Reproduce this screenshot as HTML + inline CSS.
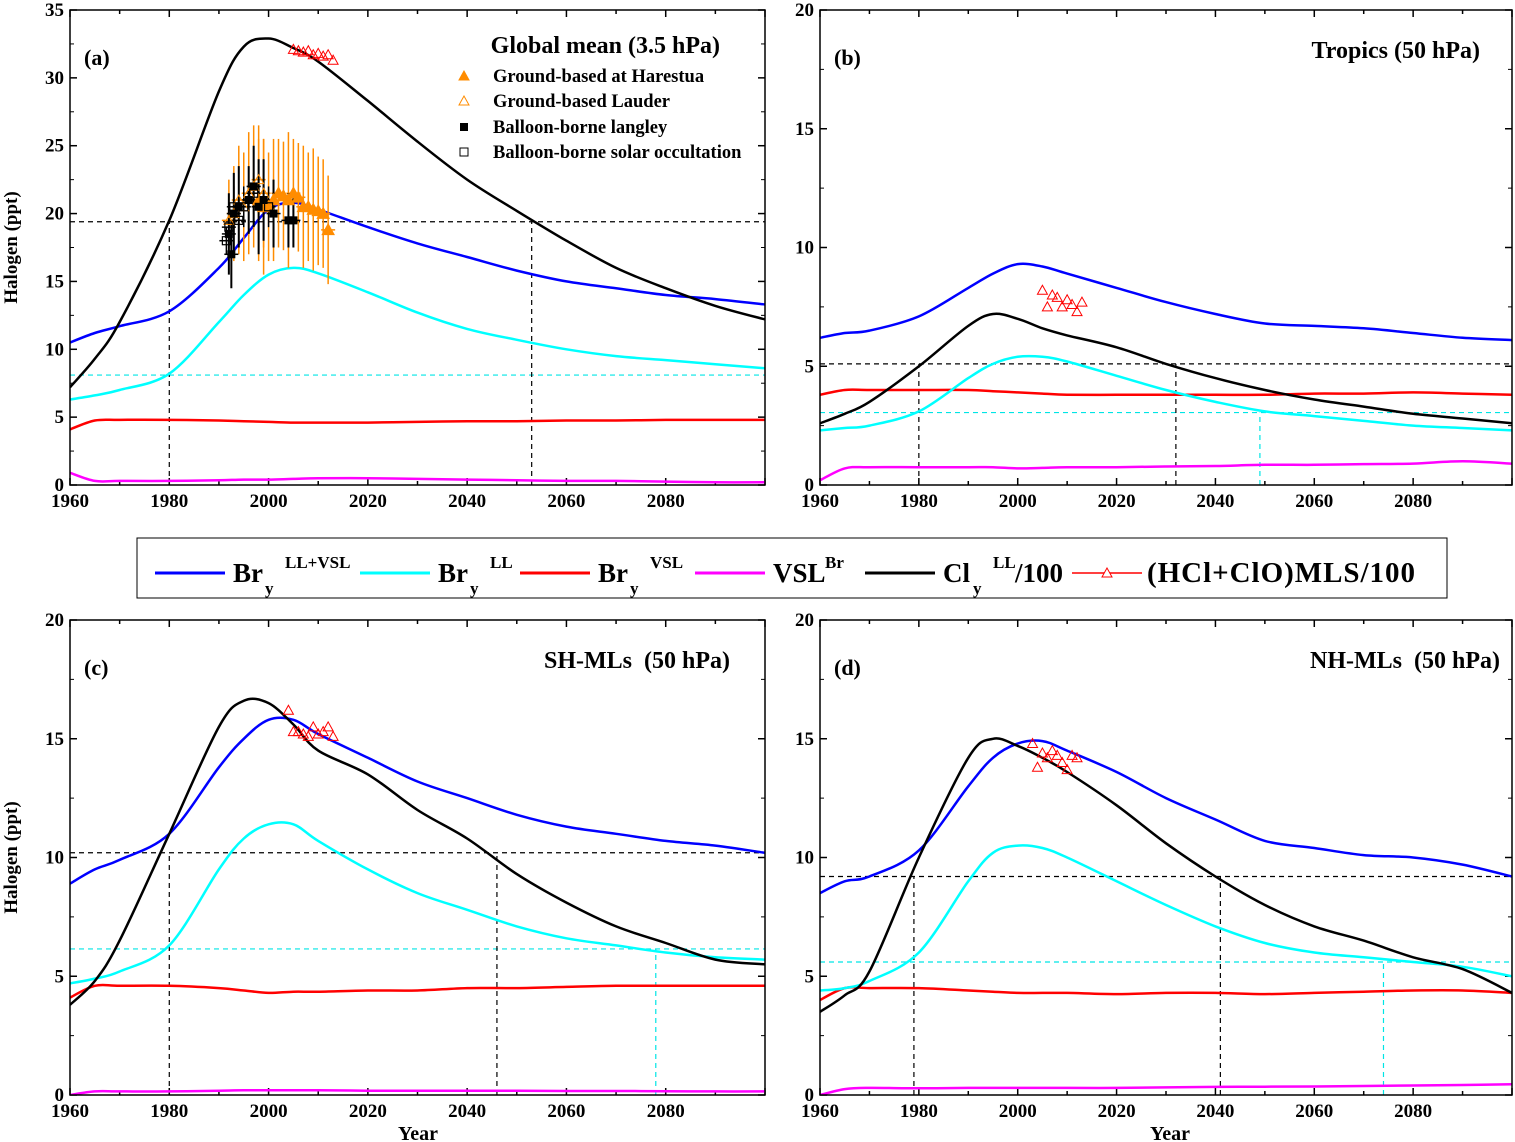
<!DOCTYPE html>
<html><head><meta charset="utf-8">
<style>
html,body{margin:0;padding:0;background:#fff;}
svg{display:block;font-family:"Liberation Serif",serif;font-weight:bold;}
</style></head>
<body>
<svg id="chart" width="1515" height="1142" viewBox="0 0 1515 1142" xmlns="http://www.w3.org/2000/svg">
<rect x="0" y="0" width="1515" height="1142" fill="#fff"/>
</svg>
<script>
// ---- data ----
const years = [1960,1965,1970,1980,1990,1995,2000,2005,2010,2020,2030,2040,2050,2060,2070,2080,2090,2100];
// panel a
const aBlue  = [10.5,11.2,11.7,12.8,16,18.2,20.3,20.8,20.3,19,17.8,16.8,15.8,15,14.5,14,13.7,13.3];
const aCyan  = [6.3,6.6,7,8.2,12,14,15.5,16,15.6,14.2,12.7,11.5,10.7,10,9.5,9.2,8.9,8.6];
const aRed   = [4.1,4.75,4.8,4.8,4.75,4.7,4.65,4.6,4.6,4.6,4.65,4.7,4.7,4.75,4.75,4.8,4.8,4.8];
const aMag   = [0.9,0.3,0.3,0.3,0.35,0.4,0.4,0.45,0.5,0.5,0.45,0.4,0.35,0.3,0.3,0.25,0.2,0.2];
const aBlack = [7.2,9.3,12,19.5,29,32.3,32.9,32.2,31.2,28.3,25.3,22.5,20.2,18,16,14.5,13.2,12.2];
// panel b
const bBlue  = [6.2,6.4,6.5,7.1,8.3,8.9,9.3,9.2,8.9,8.3,7.7,7.2,6.8,6.7,6.6,6.4,6.2,6.1];
const bCyan  = [2.3,2.4,2.5,3.1,4.5,5.1,5.4,5.4,5.2,4.6,4,3.5,3.1,2.9,2.7,2.5,2.4,2.3];
const bRed   = [3.8,4.0,4.0,4.0,4.0,3.95,3.9,3.85,3.8,3.8,3.8,3.8,3.8,3.85,3.85,3.9,3.85,3.8];
const bMag   = [0.2,0.7,0.75,0.75,0.75,0.75,0.7,0.72,0.75,0.75,0.78,0.8,0.85,0.85,0.88,0.9,1.0,0.9];
const bBlack = [2.6,3.0,3.5,5,6.7,7.2,7,6.6,6.3,5.8,5.1,4.5,4.0,3.6,3.3,3.0,2.8,2.6];
// panel c
const cBlue  = [8.9,9.5,9.9,11,13.8,15,15.8,15.8,15.2,14.2,13.2,12.5,11.8,11.3,11,10.7,10.5,10.2];
const cCyan  = [4.7,4.9,5.2,6.3,9.5,10.8,11.4,11.4,10.7,9.5,8.5,7.8,7.1,6.6,6.3,6.0,5.8,5.7];
const cRed   = [4.1,4.6,4.6,4.6,4.5,4.4,4.3,4.35,4.35,4.4,4.4,4.5,4.5,4.55,4.6,4.6,4.6,4.6];
const cMag   = [0,0.15,0.15,0.15,0.18,0.2,0.2,0.2,0.2,0.18,0.18,0.18,0.18,0.17,0.17,0.16,0.15,0.15];
const cBlack = [3.8,4.8,6.5,11,15.5,16.6,16.5,15.6,14.5,13.5,12,10.8,9.3,8.1,7.1,6.4,5.7,5.5];
// panel d
const dBlue  = [8.5,9.0,9.2,10.3,13,14.2,14.8,14.9,14.5,13.6,12.5,11.6,10.7,10.4,10.1,10,9.7,9.2];
const dCyan  = [4.4,4.5,4.8,6,9,10.2,10.5,10.4,10,9,8,7.1,6.4,6.0,5.8,5.6,5.4,5.0];
const dRed   = [4.0,4.5,4.5,4.5,4.4,4.35,4.3,4.3,4.3,4.25,4.3,4.3,4.25,4.3,4.35,4.4,4.4,4.3];
const dMag   = [0,0.25,0.3,0.28,0.3,0.3,0.3,0.3,0.3,0.3,0.32,0.34,0.35,0.36,0.38,0.4,0.42,0.45];
const dBlack = [3.5,4.2,5.2,10,14.2,15,14.7,14.2,13.6,12.2,10.6,9.2,8,7.1,6.5,5.8,5.3,4.3];
// MLS (HCl+ClO)/100
const mlsYearsA = [2005,2006,2007,2008,2009,2010,2011,2012,2013];
const mlsA = [32.1,32.0,31.9,32.0,31.7,31.8,31.6,31.7,31.3];
const mlsYearsB = [2005,2006,2007,2008,2009,2010,2011,2012,2013];
const mlsB = [8.2,7.5,8.0,7.9,7.5,7.8,7.6,7.3,7.7];
const mlsYearsC = [2004,2005,2006,2007,2008,2009,2010,2011,2012,2013];
const mlsC = [16.2,15.3,15.3,15.2,15.1,15.5,15.2,15.3,15.5,15.1];
const mlsYearsD = [2003,2004,2005,2006,2007,2008,2009,2010,2011,2012];
const mlsD = [14.8,13.8,14.4,14.2,14.5,14.3,14.0,13.7,14.3,14.2];
// Ground-based / balloon observations (panel a)
const harYears = [1998,1999,2000,2001,2002,2003,2004,2005,2006,2007,2008,2009,2010,2011,2012];
const harVals  = [21,20.5,20.5,21,21.5,21.3,21,21.5,21.2,20.5,20.5,20.3,20.2,20,18.8];
const harErr   = [4.5,5,4,4.5,4,4,5,4,4,4.5,4,4.5,4,4,4];
const laudYears = [1992,1993,1994,1995,1996,1997,1998,1999];
const laudVals  = [19.5,20,21,20.5,21.5,22,22.5,21.5];
const laudErr   = [3,3.5,4,4,4.5,4.5,4,4];
const balYears = [1992,1992.5,1993,1994,1996,1997,1998,1999,2001,2004,2005];
const balVals  = [18.5,17,20,20.5,21,22,20.5,21,20,19.5,19.5];
const balErr   = [3,2.5,3,3,2.5,3,3.5,3,2.5,2,2];
const solYears = [1991.5,1992,1993,1994,1995,1997,2000];
const solVals  = [18,19,20.5,19.5,20.5,21.5,20.5];
const solErr   = [1,1.5,1.5,1.5,1.5,1.5,1.5];
// dashed reference lines
const refA = {h:19.4, v:[1980,2053], ch:8.1, cv:[]};
const refB = {h:5.1, v:[1980,2032], ch:3.05, cv:[2049]};
const refC = {h:10.2, v:[1980,2046], ch:6.15, cv:[2078]};
const refD = {h:9.2, v:[1979,2041], ch:5.6, cv:[2074]};

const NS = "http://www.w3.org/2000/svg";
const svg = document.getElementById('chart');
function mk(tag, attrs, parent){
  const e = document.createElementNS(NS, tag);
  for (const k in attrs) e.setAttribute(k, attrs[k]);
  (parent||svg).appendChild(e);
  return e;
}
function smoothPath(pts){
  let d = `M${pts[0][0].toFixed(1)},${pts[0][1].toFixed(1)}`;
  for (let i=0;i<pts.length-1;i++){
    const p0=pts[Math.max(0,i-1)], p1=pts[i], p2=pts[i+1], p3=pts[Math.min(pts.length-1,i+2)];
    const c1=[p1[0]+(p2[0]-p0[0])/6, p1[1]+(p2[1]-p0[1])/6];
    const c2=[p2[0]-(p3[0]-p1[0])/6, p2[1]-(p3[1]-p1[1])/6];
    d += ` C${c1[0].toFixed(1)},${c1[1].toFixed(1)} ${c2[0].toFixed(1)},${c2[1].toFixed(1)} ${p2[0].toFixed(1)},${p2[1].toFixed(1)}`;
  }
  return d;
}
function tri(g, x, y, s, fill, stroke){
  return mk('polygon',{points:`${x},${y-s} ${x-s},${y+s*0.8} ${x+s},${y+s*0.8}`,fill:fill,stroke:stroke,'stroke-width':1},g);
}

function panel(cfg){
  const {id,L,R,T,B,ymax,series,mlsX,mlsY,ref,label,title,xlabel} = cfg;
  const g = mk('g',{});
  
  
  const xs = v => L + (v-1960)/(2100-1960)*(R-L);
  const ys = v => B - v/ymax*(B-T);
  const cp = mk('clipPath',{id:'clip'+id},g);
  mk('rect',{x:L,y:T,width:R-L,height:B-T},cp);
  for (let v=0; v<=ymax; v+=5){
    const y=ys(v);
    mk('line',{x1:L,y1:y,x2:L+7,y2:y,stroke:'#000','stroke-width':1.5},g);
    mk('line',{x1:R,y1:y,x2:R-7,y2:y,stroke:'#000','stroke-width':1.5},g);
    if (v<ymax){ const ym=ys(v+2.5);
      mk('line',{x1:L,y1:ym,x2:L+4,y2:ym,stroke:'#000','stroke-width':1},g);
      mk('line',{x1:R,y1:ym,x2:R-4,y2:ym,stroke:'#000','stroke-width':1},g);}
    const t=mk('text',{x:L-6,y:y+6,'text-anchor':'end','font-size':19},g);
    t.textContent=v;
    
    
  }
  for (let v=1960; v<=2100; v+=10){
    const x=xs(v);
    const len = v%20===0?7:4;
    mk('line',{x1:x,y1:B,x2:x,y2:B-len,stroke:'#000','stroke-width':1.5},g);
    mk('line',{x1:x,y1:T,x2:x,y2:T+len,stroke:'#000','stroke-width':1.5},g);
    if (v%20===0 && v<2100){
      const t=mk('text',{x:x,y:B+22,'text-anchor':'middle','font-size':19},g);
      t.textContent=v;
      
      
    }
  }
  const cg = mk('g',{'clip-path':`url(#clip${id})`},g);
  mk('line',{x1:L,y1:ys(ref.h),x2:R,y2:ys(ref.h),stroke:'#000','stroke-width':1.2,'stroke-dasharray':'5,4'},cg);
  mk('line',{x1:L,y1:ys(ref.ch),x2:R,y2:ys(ref.ch),stroke:'#00e5e5','stroke-width':1.2,'stroke-dasharray':'5,4'},cg);
  ref.v.forEach(v=>mk('line',{x1:xs(v),y1:B,x2:xs(v),y2:ys(ref.h),stroke:'#000','stroke-width':1.2,'stroke-dasharray':'5,4'},cg));
  ref.cv.forEach(v=>mk('line',{x1:xs(v),y1:B,x2:xs(v),y2:ys(ref.ch),stroke:'#00e5e5','stroke-width':1.2,'stroke-dasharray':'5,4'},cg));
  const colors = {blue:'#0000ff',cyan:'#00ffff',red:'#ff0000',mag:'#ff00ff',black:'#000'};
  ['mag','red','cyan','blue','black'].forEach(k=>{
    const vals = series[k];
    const pts = years.map((yr,i)=>[xs(yr),ys(vals[i])]);
    const p = mk('path',{d:smoothPath(pts),fill:'none',stroke:colors[k],'stroke-width':2.5},cg);
    
    
  });
  if (cfg.extra) cfg.extra(cg,xs,ys);
  mlsX.forEach((yr,i)=>{
    const t=tri(cg,xs(yr),ys(mlsY[i]),5,'none','#ff0000');
    
    
  });
  const fr = mk('rect',{x:L,y:T,width:R-L,height:B-T,fill:'none',stroke:'#000','stroke-width':1.5},g);
  
  
  const lb = mk('text',{x:L+14,y:T+55,'font-size':22},g);
  lb.textContent=label;
  
  
  const tt = mk('text',{x:title.x,y:title.y,'text-anchor':'end','font-size':24,'xml:space':'preserve'},g);
  tt.setAttributeNS('http://www.w3.org/XML/1998/namespace','xml:space','preserve');
  tt.textContent=title.t;
  
  
  if (cfg.ylabel){
    const yl = mk('text',{x:0,y:0,'text-anchor':'middle','font-size':19,transform:`translate(17,${(T+B)/2}) rotate(-90)`},g);
    yl.textContent='Halogen (ppt)';
    
    
  }
  if (xlabel){
    const xl = mk('text',{x:(id==='c'?418:1170),y:1140,'text-anchor':'middle','font-size':20},g);
    xl.textContent='Year';
    
    
  }
}

function obsExtra(cg,xs,ys){
  const eb = (yrs,vals,errs,col,w)=>yrs.forEach((yr,i)=>{
    const x=xs(yr);
    mk('line',{x1:x,y1:ys(vals[i]-errs[i]),x2:x,y2:ys(vals[i]+errs[i]),stroke:col,'stroke-width':w},cg);
    mk('line',{x1:x-7,y1:ys(vals[i]),x2:x+7,y2:ys(vals[i]),stroke:col,'stroke-width':1.5},cg);
  });
  eb(laudYears,laudVals,laudErr,'#ff8c00',1.5);
  eb(harYears,harVals,harErr,'#ff8c00',1.5);
  eb(balYears,balVals,balErr,'#000',2);
  eb(solYears,solVals,solErr,'#000',1.5);
  laudYears.forEach((yr,i)=>tri(cg,xs(yr),ys(laudVals[i]),5,'none','#ff8c00'));
  harYears.forEach((yr,i)=>tri(cg,xs(yr),ys(harVals[i]),6,'#ff8c00','#ff8c00'));
  balYears.forEach((yr,i)=>mk('rect',{x:xs(yr)-4,y:ys(balVals[i])-4,width:8,height:8,fill:'#000'},cg));
  solYears.forEach((yr,i)=>mk('rect',{x:xs(yr)-4,y:ys(solVals[i])-4,width:8,height:8,fill:'none',stroke:'#000','stroke-width':1.2},cg));
}

panel({id:'a',L:70,R:765,T:10,B:485,ymax:35,ylabel:true,
  series:{blue:aBlue,cyan:aCyan,red:aRed,mag:aMag,black:aBlack},
  mlsX:mlsYearsA,mlsY:mlsA,ref:refA,label:'(a)',title:{t:'Global mean (3.5 hPa)',x:720,y:53},extra:obsExtra});
panel({id:'b',L:820,R:1512,T:10,B:485,ymax:20,
  series:{blue:bBlue,cyan:bCyan,red:bRed,mag:bMag,black:bBlack},
  mlsX:mlsYearsB,mlsY:mlsB,ref:refB,label:'(b)',title:{t:'Tropics (50 hPa)',x:1480,y:58}});
panel({id:'c',L:70,R:765,T:620,B:1095,ymax:20,ylabel:true,xlabel:true,
  series:{blue:cBlue,cyan:cCyan,red:cRed,mag:cMag,black:cBlack},
  mlsX:mlsYearsC,mlsY:mlsC,ref:refC,label:'(c)',title:{t:'SH-MLs\u00a0\u00a0(50 hPa)',x:730,y:668}});
panel({id:'d',L:820,R:1512,T:620,B:1095,ymax:20,xlabel:true,
  series:{blue:dBlue,cyan:dCyan,red:dRed,mag:dMag,black:dBlack},
  mlsX:mlsYearsD,mlsY:mlsD,ref:refD,label:'(d)',title:{t:'NH-MLs\u00a0\u00a0(50 hPa)',x:1500,y:668}});

// legend inside panel a
const lg = mk('g',{});


const legItems = [['Ground-based at Harestua',82,'ft'],['Ground-based Lauder',107,'ot'],['Balloon-borne langley',133,'fs'],['Balloon-borne solar occultation',158,'os']];
legItems.forEach(([t,y,s])=>{
  if (s==='ft') tri(lg,464,y-6,5,'#ff8c00','#ff8c00');
  if (s==='ot') tri(lg,464,y-6,5,'none','#ff8c00');
  if (s==='fs') mk('rect',{x:460,y:y-10,width:8,height:8,fill:'#000'},lg);
  if (s==='os') mk('rect',{x:460,y:y-10,width:8,height:8,fill:'none',stroke:'#000'},lg);
  const tx = mk('text',{x:493,y:y,'font-size':18.5},lg);
  tx.textContent=t;
  
  
});

// main legend
const ML = mk('g',{});


mk('rect',{x:137,y:538,width:1310,height:60,fill:'#fff',stroke:'#000','stroke-width':1},ML);
const entries = [
  {x:155,c:'#0000ff',base:'Br',sub:'y',sup:'LL+VSL',suf:''},
  {x:360,c:'#00ffff',base:'Br',sub:'y',sup:'LL',suf:''},
  {x:520,c:'#ff0000',base:'Br',sub:'y',sup:'VSL',suf:''},
  {x:695,c:'#ff00ff',base:'VSL',sub:'',sup:'Br',suf:''},
  {x:865,c:'#000',base:'Cl',sub:'y',sup:'LL',suf:'/100'},
  {x:1072,c:'#ff0000',base:'(HCl+ClO)MLS/100',sub:'',sup:'',suf:'',tri:true}
];
entries.forEach(e=>{
  const eg = mk('g',{},ML);
  
  
  mk('line',{x1:e.x,y1:573,x2:e.x+70,y2:573,stroke:e.c,'stroke-width':e.tri?1.5:3},eg);
  if (e.tri) tri(eg,e.x+35,573,5,'#fff','#ff0000');
  const bx = e.x+78;
  const t = mk('text',{x:bx,y:582,'font-size':e.tri?29:27},eg);
  t.textContent=e.base;
  if (e.tri) { t.setAttribute('textLength','268'); t.setAttribute('x', 1147); }
  const bw = e.base==='Br'?32:(e.base==='Cl'?30:(e.base==='VSL'?48:0));
  if (e.sub){ const s=mk('text',{x:bx+bw,y:594,'font-size':17},eg); s.textContent=e.sub; }
  if (e.sup){ const s=mk('text',{x:bx+bw+(e.base==='VSL'?4:20),y:568,'font-size':17},eg); s.textContent=e.sup; }
  if (e.suf){ const s=mk('text',{x:bx+bw+42,y:582,'font-size':27},eg); s.textContent=e.suf; }
});
</script>
</body></html>
